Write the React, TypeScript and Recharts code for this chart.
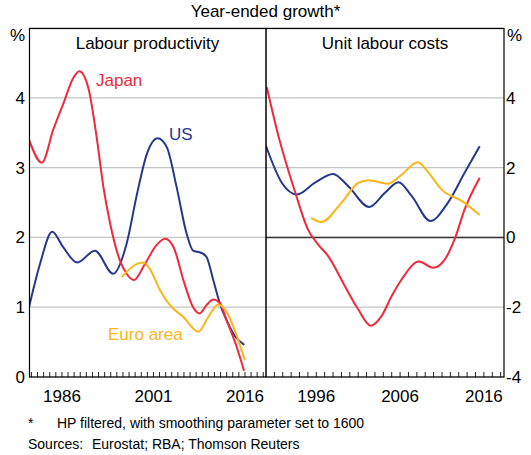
import React from "react";
import {
  CartesianGrid,
  Line,
  LineChart,
  ReferenceLine,
  XAxis,
  YAxis,
} from "recharts";

const FONT = '"Liberation Sans", Arial, sans-serif';
const RED = "#ee2a3b";
const BLUE = "#25378f";
const ORANGE = "#fbb41a";
const GRID = "#c4c4c4";

// Labour productivity, year-ended growth (%), [year, value]
const lpJapan: [number, number][] = [
  [1980.6, 3.4], [1982.7, 3.07], [1984.6, 3.55], [1986.2, 3.91], [1987.9, 4.29],
  [1988.85, 4.38], [1990.3, 4.15], [1991.7, 3.43], [1992.8, 2.72], [1993.9, 2.2],
  [1995.5, 1.67], [1996.6, 1.48], [1997.8, 1.39], [1999.6, 1.62], [2001.5, 1.89],
  [2002.9, 1.98], [2004.3, 1.86], [2005.9, 1.39], [2007.5, 1.0], [2008.6, 0.91],
  [2009.7, 1.03], [2010.8, 1.11], [2011.9, 1.06], [2013.0, 0.81], [2014.65, 0.43],
  [2015.85, 0.09],
];
const lpUS: [number, number][] = [
  [1980.6, 1.0], [1982.4, 1.62], [1984.4, 2.08], [1986.2, 1.86], [1988.5, 1.64],
  [1991.4, 1.81], [1994.4, 1.48], [1996.6, 1.91], [1998.3, 2.62], [1999.9, 3.19],
  [2001.7, 3.42], [2003.2, 3.29], [2004.8, 2.72], [2006.45, 2.05], [2007.5, 1.81],
  [2008.8, 1.78], [2009.7, 1.72], [2010.8, 1.39], [2011.9, 1.05], [2013.0, 0.81],
  [2014.4, 0.58], [2015.9, 0.46],
];
const lpEuro: [number, number][] = [
  [1995.8, 1.43], [1997.7, 1.59], [1999.3, 1.64], [2000.4, 1.55], [2002.1, 1.24],
  [2003.7, 1.03], [2005.9, 0.86], [2008.35, 0.65], [2010.0, 0.86], [2011.6, 1.04],
  [2013.0, 0.93], [2014.4, 0.65], [2016.0, 0.24],
];

// Unit labour costs, year-ended growth (%), [year, value]
const ulcJapan: [number, number][] = [
  [1990.1, 4.3], [1991.5, 2.89], [1993.5, 1.28], [1995.0, 0.23], [1996.2, -0.2],
  [1997.4, -0.53], [1999.4, -1.39], [2001.0, -2.06], [2002.5, -2.53], [2003.8, -2.25],
  [2005.0, -1.68], [2006.2, -1.2], [2008.25, -0.69], [2009.95, -0.87], [2011.35, -0.63],
  [2012.5, -0.06], [2013.7, 0.8], [2015.5, 1.71],
];
const ulcUS: [number, number][] = [
  [1990.0, 2.62], [1991.9, 1.56], [1993.7, 1.23], [1995.8, 1.56], [1998.0, 1.82],
  [1999.8, 1.47], [2002.3, 0.87], [2004.2, 1.28], [2005.8, 1.58], [2007.4, 1.18],
  [2009.6, 0.47], [2011.7, 0.99], [2013.7, 1.85], [2015.5, 2.61],
];
const ulcEuro: [number, number][] = [
  [1995.4, 0.56], [1996.6, 0.44], [1999.0, 0.99], [2001.0, 1.56], [2002.2, 1.64],
  [2004.6, 1.54], [2006.2, 1.8], [2008.1, 2.15], [2009.4, 1.85], [2010.95, 1.37],
  [2013.4, 1.04], [2015.5, 0.64],
];

const lpDomain: [number, number] = [1980.6, 2019.45];
const ulcDomain: [number, number] = [1990, 2018.4];
const lpYearTicks = Array.from({ length: 39 }, (_, i) => 1981 + i);
const ulcYearTicks = Array.from({ length: 28 }, (_, i) => 1991 + i);
const lpYearLabels = [1986, 2001, 2016];
const ulcYearLabels = [1996, 2006, 2016];
const lpValueTicks = [0, 1, 2, 3, 4];
const ulcValueTicks = [-4, -2, 0, 2, 4];

const toPoints = (rows: [number, number][]) => rows.map(([x, v]) => ({ x, v }));

function YearTick(props: any) {
  const { x, y, payload, labels } = props;
  const show = labels.includes(payload.value);
  return (
    <g>
      <line x1={x} x2={x} y1={y} y2={y - 5} stroke="#222" strokeWidth={1} />
      {show ? (
        <text x={x} y={y + 25} textAnchor="middle" fontSize={17} fontFamily={FONT} fill="#000">
          {payload.value}
        </text>
      ) : null}
    </g>
  );
}

function series(rows: [number, number][], color: string, name: string) {
  return (
    <Line
      key={name}
      name={name}
      data={toPoints(rows)}
      dataKey="v"
      type="monotone"
      stroke={color}
      strokeWidth={2}
      dot={false}
      activeDot={false}
      isAnimationActive={false}
    />
  );
}

export default function App() {
  const tickFont = { fontSize: 17, fill: "#000", fontFamily: FONT };
  return (
    <div
      style={{
        position: "absolute",
        left: 0,
        top: 0,
        width: 531,
        height: 455,
        background: "#fff",
        fontFamily: FONT,
      }}
    >
      <LineChart
        width={266}
        height={410}
        margin={{ top: 28, right: 0, bottom: 0, left: 0 }}
        style={{ position: "absolute", left: 0, top: 0 }}
      >
        <CartesianGrid horizontal vertical={false} stroke={GRID} strokeWidth={1.2} />
        <XAxis
          type="number"
          dataKey="x"
          domain={lpDomain}
          ticks={lpYearTicks}
          interval={0}
          allowDataOverflow
          height={33}
          axisLine={false}
          tickLine={false}
          tickSize={0}
          tickMargin={0}
          tick={(p: any) => <YearTick {...p} labels={lpYearLabels} />}
        />
        <YAxis
          type="number"
          domain={[0, 5]}
          ticks={lpValueTicks}
          interval={0}
          allowDataOverflow
          width={29}
          axisLine={false}
          tickLine={false}
          tickSize={0}
          tickMargin={4}
          tick={tickFont}
        />
        {series(lpUS, BLUE, "US")}
        {series(lpJapan, RED, "Japan")}
        {series(lpEuro, ORANGE, "Euro area")}
      </LineChart>

      <LineChart
        width={265}
        height={410}
        margin={{ top: 28, right: 0, bottom: 0, left: 0 }}
        style={{ position: "absolute", left: 266, top: 0 }}
      >
        <CartesianGrid horizontal vertical={false} stroke={GRID} strokeWidth={1.2} />
        <XAxis
          type="number"
          dataKey="x"
          domain={ulcDomain}
          ticks={ulcYearTicks}
          interval={0}
          allowDataOverflow
          height={33}
          axisLine={false}
          tickLine={false}
          tickSize={0}
          tickMargin={0}
          tick={(p: any) => <YearTick {...p} labels={ulcYearLabels} />}
        />
        <YAxis
          type="number"
          orientation="right"
          domain={[-4, 6]}
          ticks={ulcValueTicks}
          interval={0}
          allowDataOverflow
          width={27}
          axisLine={false}
          tickLine={false}
          tickSize={0}
          tickMargin={2}
          tick={tickFont}
        />
        <ReferenceLine y={0} stroke="#333" strokeWidth={1.5} />
        {series(ulcUS, BLUE, "US")}
        {series(ulcJapan, RED, "Japan")}
        {series(ulcEuro, ORANGE, "Euro area")}
      </LineChart>

      <svg
        width={531}
        height={455}
        style={{ position: "absolute", left: 0, top: 0, pointerEvents: "none" }}
        fontFamily={FONT}
      >
        <rect x={29.5} y={28.5} width={474.5} height={348.5} fill="none" stroke="#000" strokeWidth={1.2} />
        <line x1={266} x2={266} y1={28} y2={377} stroke="#000" strokeWidth={1.5} />
        <text x={265.5} y={17} textAnchor="middle" fontSize={17}>Year-ended growth*</text>
        <text x={147.5} y={49} textAnchor="middle" fontSize={17}>Labour productivity</text>
        <text x={385} y={49} textAnchor="middle" fontSize={17}>Unit labour costs</text>
        <text x={25} y={41} textAnchor="end" fontSize={17}>%</text>
        <text x={507} y={41} fontSize={17}>%</text>
        <text x={96} y={86} fontSize={17} fill={RED}>Japan</text>
        <text x={169} y={140} fontSize={17} fill={BLUE}>US</text>
        <text x={108} y={340} fontSize={17} fill={ORANGE}>Euro area</text>
        <text x={28} y={428} fontSize={14}>*</text>
        <text x={57} y={428} fontSize={14}>HP filtered, with smoothing parameter set to 1600</text>
        <text x={28} y={449} fontSize={14}>Sources:</text>
        <text x={92} y={449} fontSize={14}>Eurostat; RBA; Thomson Reuters</text>
      </svg>
    </div>
  );
}
